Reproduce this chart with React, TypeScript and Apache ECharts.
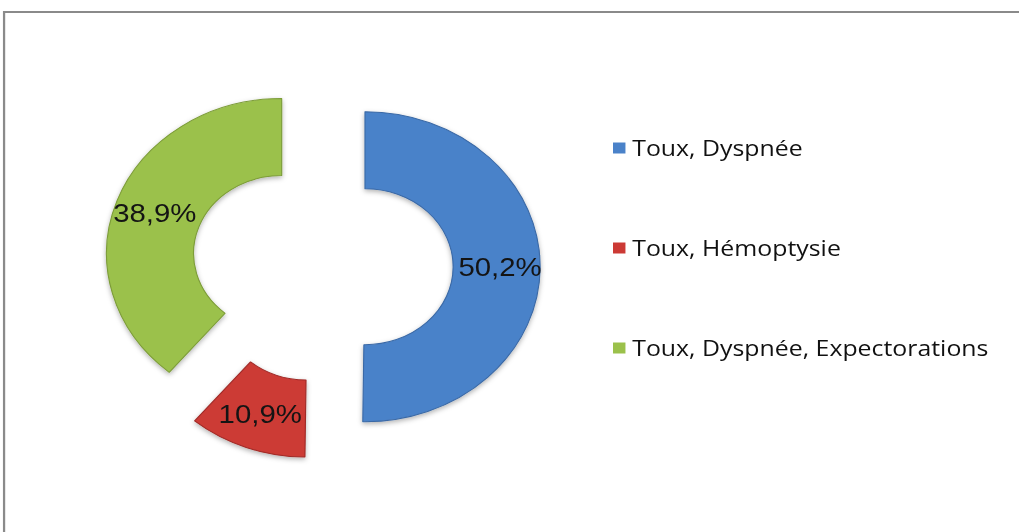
import React, { useEffect, useRef } from "react";
import * as echarts from "echarts";

const categories = ["Toux, Dyspnée", "Toux, Hémoptysie", "Toux, Dyspnée, Expectorations"];
const values = [50.2, 10.9, 38.9];
const colors = ["#4A82C9", "#CC3A35", "#9BC14B"];
const borders = ["#3A69A6", "#A02A26", "#7C9C38"];

const SX = 1.13;
const W = 1019;
const H = 532;

export default function App() {
  const ref = useRef<HTMLDivElement>(null);
  useEffect(() => {
    if (!ref.current) return;
    const chart = echarts.init(ref.current, null, { renderer: "svg" });
    chart.setOption({
      animation: false,
      backgroundColor: "#ffffff",
      graphic: [
        {
          type: "rect",
          shape: { x: 3.6, y: 12, width: 1000, height: 700 },
          style: { fill: "none", stroke: "#8a8a8a", lineWidth: 2 },
          silent: true,
        },
      ],
      legend: {
        orient: "vertical",
        left: 542.5,
        top: 137,
        padding: 0,
        itemGap: 78,
        itemWidth: 11,
        itemHeight: 11,
        icon: "rect",
        selectedMode: false,
        itemStyle: { borderWidth: 0, shadowBlur: 0 },
        textStyle: { fontFamily: "Open Sans", fontSize: 22, lineHeight: 22, color: "#111111", padding: [0, 0, 0, 1] },
        data: categories,
      },
      series: [
        {
          type: "pie",
          center: [285, 266.5],
          radius: [78, 155],
          startAngle: 90,
          clockwise: true,
          selectedMode: "multiple",
          selectedOffset: 38,
          avoidLabelOverlap: false,
          emphasis: { disabled: true },
          select: { itemStyle: {} },
          label: {
            show: true,
            position: "inside",
            fontFamily: "Liberation Sans",
            fontSize: 26,
            color: "#141414",
            formatter: (p: any) => String(p.value).replace(".", ",") + "%",
          },
          labelLine: { show: false },
          itemStyle: {
            shadowBlur: 5,
            shadowColor: "rgba(0,0,0,0.3)",
            shadowOffsetY: 2,
          },
          data: categories.map((name, i) => ({
            name,
            value: values[i],
            selected: true,
            itemStyle: { color: colors[i], borderColor: borders[i], borderWidth: 1 },
          })),
        },
      ],
    });
    return () => chart.dispose();
  }, []);
  return (
    <div style={{ position: "absolute", left: 0, top: 0, width: W, height: H, overflow: "hidden", background: "#fff" }}>
      <div
        ref={ref}
        style={{
          width: Math.round(W / SX),
          height: H,
          transform: `scaleX(${SX})`,
          transformOrigin: "0 0",
        }}
      />
    </div>
  );
}
